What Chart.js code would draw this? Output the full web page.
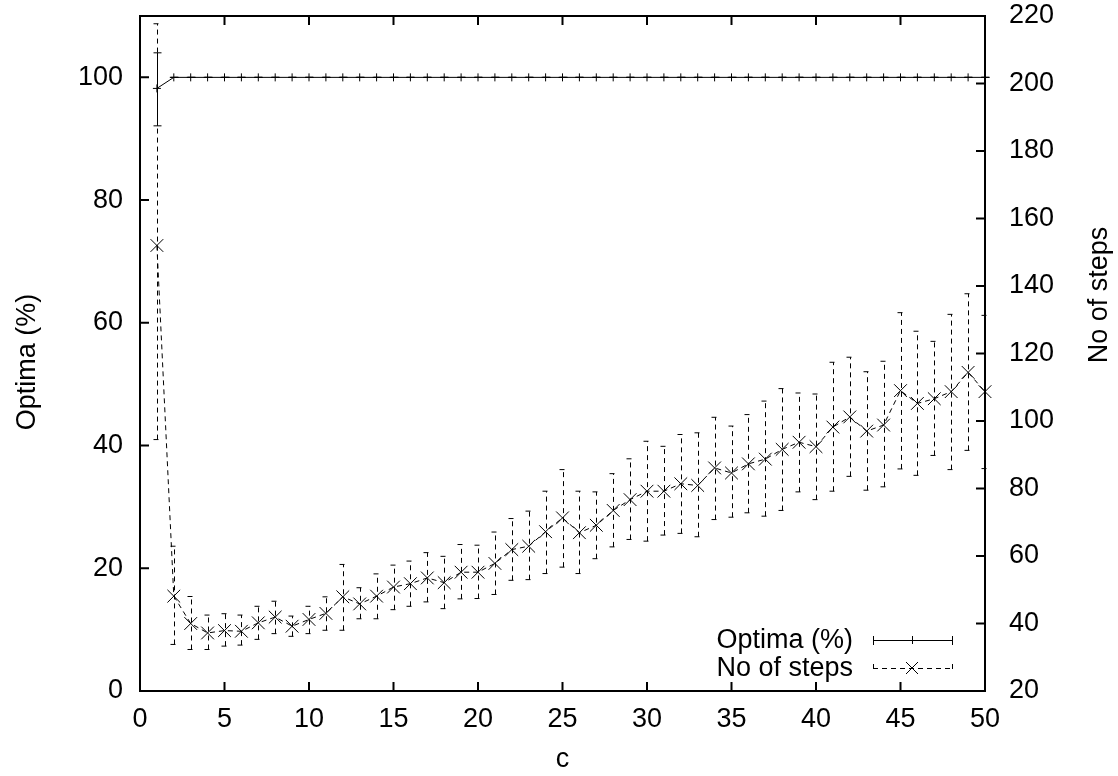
<!DOCTYPE html>
<html>
<head>
<meta charset="utf-8">
<script src="https://cdn.jsdelivr.net/npm/chart.js@4/dist/chart.umd.min.js"></script>
<style>
  html, body { margin: 0; padding: 0; background: #fff; }
  #wrap { width: 1118px; height: 776px; }
</style>
</head>
<body>
<div id="wrap"><canvas id="myChart"></canvas></div>
<script>
const cValues = [1, 2, 3, 4, 5, 6, 7, 8, 9, 10, 11, 12, 13, 14, 15, 16, 17, 18, 19, 20,
  21, 22, 23, 24, 25, 26, 27, 28, 29, 30, 31, 32, 33, 34, 35, 36, 37, 38, 39, 40,
  41, 42, 43, 44, 45, 46, 47, 48, 49, 50];

// Optima (%) - left axis
const optima = [98.2, 100, 100, 100, 100, 100, 100, 100, 100, 100, 100, 100, 100, 100, 100, 100, 100, 100, 100, 100,
  100, 100, 100, 100, 100, 100, 100, 100, 100, 100, 100, 100, 100, 100, 100, 100, 100, 100, 100, 100,
  100, 100, 100, 100, 100, 100, 100, 100, 100, 100];
const optimaLow = [92.1, 100, 100, 100, 100, 100, 100, 100, 100, 100, 100, 100, 100, 100, 100, 100, 100, 100, 100, 100,
  100, 100, 100, 100, 100, 100, 100, 100, 100, 100, 100, 100, 100, 100, 100, 100, 100, 100, 100, 100,
  100, 100, 100, 100, 100, 100, 100, 100, 100, 100];
const optimaHigh = [104.0, 100, 100, 100, 100, 100, 100, 100, 100, 100, 100, 100, 100, 100, 100, 100, 100, 100, 100, 100,
  100, 100, 100, 100, 100, 100, 100, 100, 100, 100, 100, 100, 100, 100, 100, 100, 100, 100, 100, 100,
  100, 100, 100, 100, 100, 100, 100, 100, 100, 100];

// No of steps - right axis
const steps = [152, 48.1, 40.0, 37.2, 37.9, 37.7, 40.2, 41.9, 39.2, 41.2,
  43.0, 47.9, 45.8, 48.1, 50.8, 51.8, 53.5, 52.1, 55.2, 55.2,
  57.8, 61.9, 62.9, 67.2, 71.3, 66.9, 69.1, 73.5, 76.7, 79.2,
  79.2, 81.4, 80.9, 86.1, 84.6, 87.3, 88.7, 91.6, 93.7, 92.4,
  98.2, 101.2, 97.0, 98.8, 109.0, 105.2, 106.6, 108.7, 114.4, 108.7];
const stepsLow = [94.5, 33.8, 32.3, 32.3, 33.3, 33.6, 35.3, 37.0, 36.2, 37.0,
  38.0, 38.0, 41.4, 41.4, 44.1, 45.1, 46.4, 44.4, 47.3, 47.4,
  48.6, 52.8, 53.0, 54.8, 56.7, 54.8, 59.2, 62.7, 64.9, 64.4,
  66.2, 66.7, 65.7, 70.8, 71.5, 72.8, 71.8, 73.5, 79.0, 76.7,
  79.2, 83.6, 79.5, 80.5, 85.8, 83.9, 89.8, 85.6, 91.3, 85.9];
const stepsHigh = [217.7, 62.9, 48.0, 42.5, 42.9, 42.5, 45.1, 46.6, 42.2, 45.1,
  47.9, 57.5, 50.6, 54.7, 57.3, 58.5, 61.0, 59.9, 63.4, 63.2,
  67.1, 71.1, 73.3, 79.2, 85.6, 79.2, 79.0, 84.4, 88.8, 94.0,
  92.5, 96.0, 96.5, 101.1, 98.5, 101.9, 105.9, 109.6, 108.3, 108.0,
  117.4, 118.9, 114.6, 117.7, 132.1, 126.6, 123.6, 131.6, 137.7, 131.3];

const seriesNames = ["Optima (%)", "No of steps"];
const xTitle = "c";
const yTitle = "Optima (%)";
const y2Title = "No of steps";

const FONT = "'Liberation Sans', Arial, sans-serif";
const FSIZE = 27;
const DASH = [5, 4];

function toPoints(xs, ys) {
  return xs.map((v, i) => ({ x: v, y: ys[i] }));
}

function drawBars(ctx, xs, ys, lo, hi, dash) {
  ctx.setLineDash(dash);
  for (let i = 0; i < cValues.length; i++) {
    const px = Math.round(xs.getPixelForValue(cValues[i])) + 0.5;
    const pLo = ys.getPixelForValue(lo[i]);
    const pHi = ys.getPixelForValue(hi[i]);
    ctx.beginPath();
    ctx.moveTo(px, pLo);
    ctx.lineTo(px, pHi);
    ctx.stroke();
    ctx.beginPath();
    ctx.moveTo(px - 4, pLo);
    ctx.lineTo(px + 4, pLo);
    ctx.stroke();
    ctx.beginPath();
    ctx.moveTo(px - 4, pHi);
    ctx.lineTo(px + 4, pHi);
    ctx.stroke();
  }
  ctx.setLineDash([]);
}

// no auto padding for first/last tick labels
function noPad(s) {
  s.paddingTop = 0;
  s.paddingBottom = 0;
  s.paddingLeft = 0;
  s.paddingRight = 0;
}

const gnuplotLook = {
  id: "gnuplotLook",
  beforeDatasetsDraw(chart) {
    const { ctx, scales } = chart;
    ctx.save();
    ctx.strokeStyle = "#000";
    ctx.lineWidth = 1;
    drawBars(ctx, scales.x, scales.y, optimaLow, optimaHigh, []);
    drawBars(ctx, scales.x, scales.y2, stepsLow, stepsHigh, DASH);
    ctx.restore();
  },
  afterDraw(chart) {
    const { ctx, chartArea: a, scales } = chart;
    ctx.save();
    ctx.strokeStyle = "#000";
    ctx.lineWidth = 2;
    ctx.strokeRect(a.left, a.top, a.right - a.left, a.bottom - a.top);

    // inward ticks
    const tl = 9;
    ctx.beginPath();
    scales.x.ticks.forEach((t) => {
      const px = scales.x.getPixelForValue(t.value);
      ctx.moveTo(px, a.bottom); ctx.lineTo(px, a.bottom - tl);
      ctx.moveTo(px, a.top); ctx.lineTo(px, a.top + tl);
    });
    scales.y.ticks.forEach((t) => {
      const py = scales.y.getPixelForValue(t.value);
      ctx.moveTo(a.left, py); ctx.lineTo(a.left + tl, py);
    });
    scales.y2.ticks.forEach((t) => {
      const py = scales.y2.getPixelForValue(t.value);
      ctx.moveTo(a.right, py); ctx.lineTo(a.right - tl, py);
    });
    ctx.stroke();

    // axis titles
    ctx.fillStyle = "#000";
    ctx.font = FSIZE + "px " + FONT;
    ctx.textAlign = "center";
    ctx.textBaseline = "middle";
    ctx.save();
    ctx.translate(28, 362);
    ctx.rotate(-Math.PI / 2);
    ctx.fillText(yTitle, 0, 0);
    ctx.restore();
    ctx.save();
    ctx.translate(1100, 295);
    ctx.rotate(-Math.PI / 2);
    ctx.fillText(y2Title, 0, 0);
    ctx.restore();

    // key
    const textRight = 853, s0 = 873, s1 = 952, sm = 912;
    const rows = [640, 668];
    ctx.textAlign = "right";
    rows.forEach((ry, k) => {
      ctx.fillText(seriesNames[k], textRight, ry + 1);
      ctx.lineWidth = 1;
      ctx.setLineDash(k === 0 ? [] : DASH);
      ctx.beginPath();
      ctx.moveTo(s0, ry + 0.5); ctx.lineTo(s1, ry + 0.5);
      ctx.stroke();
      ctx.beginPath();
      ctx.moveTo(s0 + 0.5, ry - 4); ctx.lineTo(s0 + 0.5, ry + 5);
      ctx.moveTo(s1 + 0.5, ry - 4); ctx.lineTo(s1 + 0.5, ry + 5);
      ctx.stroke();
      ctx.setLineDash([]);
      ctx.beginPath();
      if (k === 0) {
        ctx.moveTo(sm - 4, ry + 0.5); ctx.lineTo(sm + 4, ry + 0.5);
        ctx.moveTo(sm + 0.5, ry - 4); ctx.lineTo(sm + 0.5, ry + 4);
      } else {
        ctx.moveTo(sm - 6, ry - 6); ctx.lineTo(sm + 6, ry + 6);
        ctx.moveTo(sm - 6, ry + 6); ctx.lineTo(sm + 6, ry - 6);
      }
      ctx.stroke();
    });
    ctx.restore();
  }
};

const tickFont = { family: FONT, size: FSIZE };

const myChart = new Chart(document.getElementById("myChart"), {
  type: "line",
  data: {
    datasets: [
      {
        label: seriesNames[0],
        data: toPoints(cValues, optima),
        yAxisID: "y",
        borderColor: "#000",
        borderWidth: 1,
        pointStyle: "cross",
        pointRadius: 4,
        pointBorderColor: "#000",
        pointBorderWidth: 1,
        tension: 0,
        fill: false,
        clip: false,
      },
      {
        label: seriesNames[1],
        data: toPoints(cValues, steps),
        yAxisID: "y2",
        borderColor: "#000",
        borderWidth: 1,
        borderDash: DASH,
        pointStyle: "crossRot",
        pointRadius: 9,
        pointBorderColor: "#000",
        pointBorderWidth: 1,
        tension: 0,
        fill: false,
        clip: false,
      },
    ],
  },
  options: {
    responsive: true,
    maintainAspectRatio: false,
    animation: false,
    layout: { padding: { top: 16, left: 0, right: 0, bottom: 0 } },
    plugins: {
      legend: { display: false },
      tooltip: { enabled: false },
    },
    scales: {
      x: {
        type: "linear",
        min: 0,
        max: 50,
        ticks: { stepSize: 5, color: "#000", font: tickFont, padding: 12, maxRotation: 0 },
        grid: { display: false, drawTicks: false },
        border: { display: false },
        title: { display: true, text: xTitle, color: "#000", font: tickFont, padding: { top: 0, bottom: 0 } },
        afterFit: (s) => { s.height = 85; noPad(s); },
      },
      y: {
        position: "left",
        min: 0,
        max: 110,
        ticks: { stepSize: 20, color: "#000", font: tickFont, padding: 17 },
        grid: { display: false, drawTicks: false },
        border: { display: false },
        afterBuildTicks: (s) => { s.ticks = s.ticks.filter((t) => t.value <= 100); },
        afterFit: (s) => { s.width = 140; noPad(s); },
      },
      y2: {
        position: "right",
        min: 20,
        max: 220,
        ticks: { stepSize: 20, color: "#000", font: tickFont, padding: 24 },
        grid: { display: false, drawTicks: false },
        border: { display: false },
        afterFit: (s) => { s.width = 133; noPad(s); },
      },
    },
  },
  plugins: [gnuplotLook],
});
</script>
</body>
</html>
